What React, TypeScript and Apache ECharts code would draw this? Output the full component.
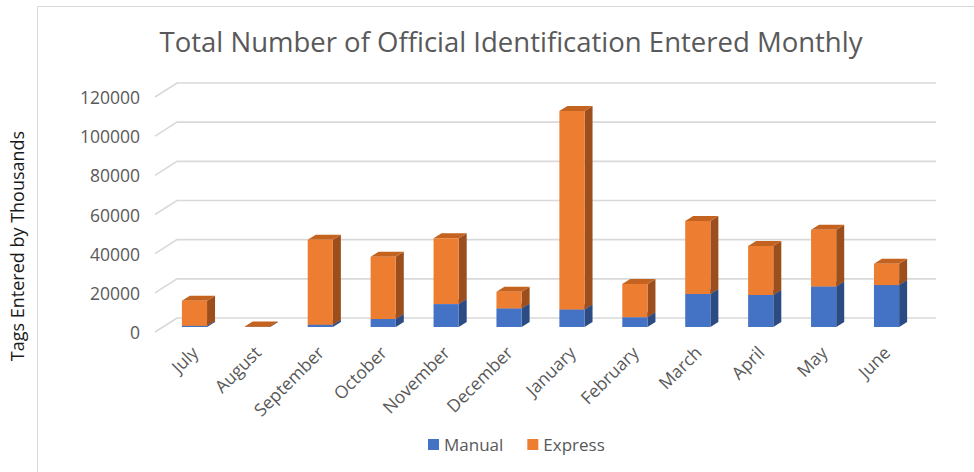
import React, { useEffect, useRef } from "react";
import * as echarts from "echarts";

const months = ["July", "August", "September", "October", "November", "December", "January", "February", "March", "April", "May", "June"];
const manual = [600, 0, 1200, 4100, 11700, 9500, 9000, 5000, 16900, 16400, 20700, 21400];
const express = [12800, 300, 43400, 31800, 33600, 8500, 101300, 17000, 37200, 25000, 29000, 10900];
const yTicks = [0, 20000, 40000, 60000, 80000, 100000, 120000];

const FONT = "'Open Sans', 'Noto Sans', sans-serif";
const DX = 8;
const DY = 5;

function makeBarRender(front: string, side: string, top: string) {
  return (params: any, api: any) => {
    const i = api.value(0);
    const lo = api.value(1);
    const hi = api.value(2);
    const pLo = api.coord([i, lo]);
    const pHi = api.coord([i, hi]);
    const w = api.size([1, 0])[0] * 0.4;
    const x0 = pLo[0] - w / 2;
    const x1 = pLo[0] + w / 2;
    const yb = pLo[1];
    const yt = pHi[1];
    return {
      type: "group",
      children: [
        {
          type: "polygon",
          shape: { points: [[x1, yt], [x1 + DX, yt - DY], [x1 + DX, yb - DY], [x1, yb]] },
          style: { fill: side },
        },
        {
          type: "polygon",
          shape: { points: [[x0, yt], [x1, yt], [x1 + DX, yt - DY], [x0 + DX, yt - DY]] },
          style: { fill: top },
        },
        {
          type: "rect",
          shape: { x: x0, y: yt, width: w, height: Math.max(yb - yt, 0) },
          style: { fill: front },
        },
      ],
    };
  };
}

export default function App() {
  const ref = useRef<HTMLDivElement>(null);
  useEffect(() => {
    if (!ref.current) return;
    const chart = echarts.init(ref.current, undefined, { renderer: "svg" });
    const manualData = months.map((_, i) => [i, 0, manual[i]]);
    const expressData = months.map((_, i) => [i, manual[i], manual[i] + express[i]]);
    const gridData = yTicks.map((v) => [0, v]);
    chart.setOption({
      animation: false,
      backgroundColor: "#ffffff",
      grid: { left: 163, right: 56, top: 92, bottom: 145 },
      xAxis: {
        type: "category",
        data: months,
        axisLine: { show: false },
        axisTick: { show: false },
        axisLabel: { rotate: 45, margin: 22, fontSize: 17.5, color: "#595959", fontFamily: FONT, interval: 0 },
      },
      yAxis: {
        type: "value",
        min: 0,
        max: 120000,
        interval: 20000,
        axisLine: { show: false },
        axisTick: { show: false },
        splitLine: { show: false },
        axisLabel: {
          margin: 23,
          fontSize: 17.5,
          color: "#595959",
          fontFamily: FONT,
          verticalAlign: "top",
          lineHeight: 10,
          formatter: (v: number) => String(v),
        },
      },
      legend: {
        data: [
          { name: "Manual", icon: "rect" },
          { name: "Express", icon: "rect" },
        ],
        left: 423,
        top: 431,
        itemWidth: 11,
        itemHeight: 11,
        itemGap: 24,
        textStyle: { fontSize: 17, color: "#595959", fontFamily: FONT },
      },
      graphic: [
        {
          type: "rect",
          shape: { x: 37.5, y: 6.5, width: 1000, height: 600 },
          style: { fill: "none", stroke: "#d9d9d9", lineWidth: 1 },
          silent: true,
        },
        {
          type: "text",
          x: 511,
          y: 41,
          style: {
            text: "Total Number of Official Identification Entered Monthly",
            align: "center",
            verticalAlign: "middle",
            fontSize: 27.5,
            fontFamily: FONT,
            fill: "#595959",
          },
        },
        {
          type: "text",
          x: 17,
          y: 246,
          rotation: Math.PI / 2,
          style: {
            text: "Tags Entered by Thousands",
            align: "center",
            verticalAlign: "middle",
            fontSize: 18,
            fontFamily: FONT,
            fill: "#1a1a1a",
          },
        },
      ],
      series: [
        {
          name: "gridlines",
          type: "custom",
          z: 1,
          silent: true,
          data: gridData,
          encode: { x: 0, y: 1 },
          renderItem: (params: any, api: any) => {
            const y = api.coord([0, api.value(1)])[1];
            const cs = params.coordSys;
            return {
              type: "polyline",
              shape: {
                points: [
                  [cs.x - 8, y + 5],
                  [cs.x + 14, y - 9],
                  [cs.x + cs.width + 18, y - 9],
                ],
              },
              style: { stroke: "#d9d9d9", lineWidth: 1.6, fill: "none" },
            };
          },
        },
        {
          name: "Manual",
          type: "custom",
          z: 2,
          itemStyle: { color: "#4472C4" },
          data: manualData,
          encode: { x: 0, y: [1, 2] },
          renderItem: makeBarRender("#4472C4", "#2C4B82", "#3A63AD"),
        },
        {
          name: "Express",
          type: "custom",
          z: 3,
          itemStyle: { color: "#ED7D31" },
          data: expressData,
          encode: { x: 0, y: [1, 2] },
          renderItem: makeBarRender("#ED7D31", "#9C4F1C", "#C4621F"),
        },
      ],
    });
    return () => chart.dispose();
  }, []);
  return <div ref={ref} style={{ position: "fixed", left: 0, top: 0, width: 974, height: 472 }} />;
}
